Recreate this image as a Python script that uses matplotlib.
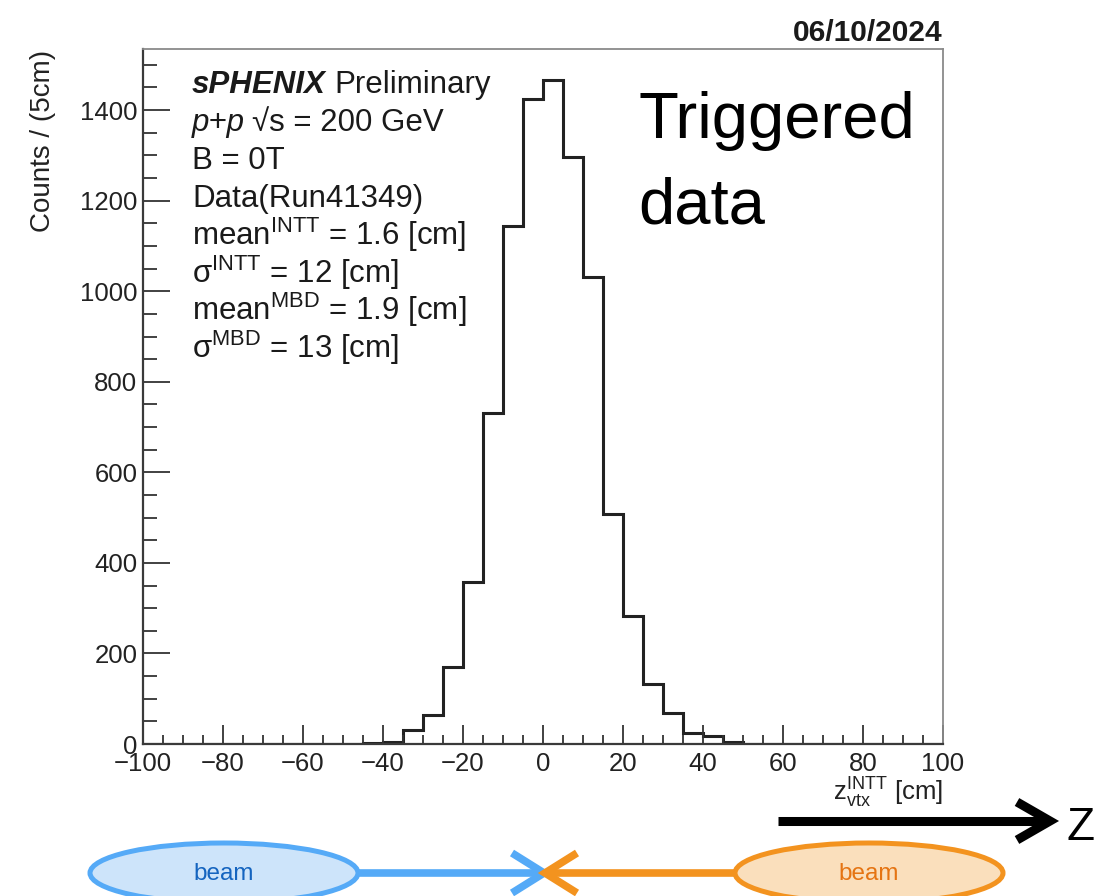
import numpy as np
import matplotlib
matplotlib.use("Agg")
import matplotlib.pyplot as plt
from matplotlib.patches import Ellipse
from matplotlib.ticker import MultipleLocator

plt.rcParams['font.family'] = ['Liberation Sans', 'DejaVu Sans']
plt.rcParams['mathtext.fontset'] = 'custom'
plt.rcParams['mathtext.rm'] = 'Liberation Sans'
plt.rcParams['mathtext.it'] = 'Liberation Sans:italic'
plt.rcParams['mathtext.bf'] = 'Liberation Sans:bold'

# INTT z-vertex distribution, 5 cm bins from -100 to 100 cm
bin_edges = np.arange(-100, 101, 5)
counts = [0, 0, 0, 0, 0, 0, 0, 0, 0, 0, 0,
          3, 5, 32, 65, 170, 358, 731, 1144, 1424,
          1466, 1297, 1032, 509, 282, 132, 68, 24, 18, 5,
          0, 0, 0, 0, 0, 0, 0, 0, 0, 0]

info_lines = [
    r"Data(Run41349)",
    r"mean$^{\mathrm{INTT}}$ = 1.6 [cm]",
    r"σ$^{\mathrm{INTT}}$ = 12 [cm]",
    r"mean$^{\mathrm{MBD}}$ = 1.9 [cm]",
    r"σ$^{\mathrm{MBD}}$ = 13 [cm]",
]

W, H = 1096, 896
fig = plt.figure(figsize=(W / 100, H / 100), dpi=100)

# main histogram frame
ax = fig.add_axes([143 / W, 1 - 744 / H, 800 / W, 695 / H])
ax.stairs(counts, bin_edges, color='#222222', lw=2.2, baseline=None)
ax.set_xlim(-100, 100)
ax.set_ylim(0, 1535)
ax.xaxis.set_major_locator(MultipleLocator(20))
ax.xaxis.set_minor_locator(MultipleLocator(5))
ax.yaxis.set_major_locator(MultipleLocator(200))
ax.yaxis.set_minor_locator(MultipleLocator(50))
ax.tick_params(axis='both', which='both', direction='in', colors='#333333',
               labelcolor='#222222', labelsize=18.5, width=1.3)
ax.tick_params(axis='x', which='major', length=13.5, pad=6)
ax.tick_params(axis='x', which='minor', length=6.5)
ax.tick_params(axis='y', which='major', length=19.5, pad=4)
ax.tick_params(axis='y', which='minor', length=10)
for s in ('left', 'bottom'):
    ax.spines[s].set_color('#3a3a3a')
    ax.spines[s].set_linewidth(1.6)
for s in ('top', 'right'):
    ax.spines[s].set_color('#8a8a8a')
    ax.spines[s].set_linewidth(1.3)

# overlay in pixel coordinates for labels and the beam sketch
ov = fig.add_axes([0, 0, 1, 1], zorder=5)
ov.set_xlim(0, W)
ov.set_ylim(H, 0)
ov.axis('off')
ov.patch.set_visible(False)

ov.text(43, 50, "Counts / (5cm)", rotation=90, ha='center', va='top',
        fontsize=20, color='#222222')
ov.text(943, 793, r"z$_{\mathrm{vtx}}^{\mathrm{INTT}}$ [cm]", ha='right',
        va='center', fontsize=18.5, color='#222222')
ov.text(943, 41, "06/10/2024", ha='right', va='baseline', fontsize=21.5,
        fontweight='bold', color='#1a1a1a')

# info block
x0, y0, dy = 192, 93.3, 37.86
fs = 22.5
t1 = ov.text(x0, y0, "sPHENIX", fontsize=fs, fontweight='bold',
             fontstyle='italic', va='baseline', color='#1a1a1a')
ov.annotate("Preliminary", xy=(1, 0), xycoords=t1, xytext=(6, 0),
            textcoords='offset points', fontsize=fs, va='bottom',
            color='#1a1a1a')
t2 = ov.text(x0, y0 + dy, "p+p", fontsize=fs, fontstyle='italic',
             va='baseline', color='#1a1a1a')
ov.annotate("√s = 200 GeV", xy=(1, 0), xycoords=t2, xytext=(5, 0),
            textcoords='offset points', fontsize=fs, va='bottom',
            color='#1a1a1a')
ov.text(x0, y0 + 2 * dy, "B = 0T", fontsize=fs, va='baseline',
        color='#1a1a1a')
for i, line in enumerate(info_lines):
    ov.text(x0, y0 + (3 + i) * dy, line, fontsize=fs, va='baseline',
            color='#1a1a1a')

ov.text(638, 138, "Triggered", fontsize=47, va='baseline', color='black')
ov.text(638, 223, "data", fontsize=47, va='baseline', color='black')

# z direction arrow
ov.plot([778, 1046], [821, 821], color='black', lw=6.5,
        solid_capstyle='butt')
ov.plot([1017, 1050, 1017], [802, 821, 840], color='black', lw=6.5,
        solid_joinstyle='miter', solid_capstyle='butt')
ov.text(1066, 840, "Z", fontsize=33, va='baseline', ha='left',
        color='black', fontstyle='normal', family='Liberation Sans')

# colliding beams
blue, blue_fill, blue_txt = '#55aaf7', '#cde4fa', '#1464bf'
orange, orange_fill, orange_txt = '#f3931f', '#fadfbc', '#e57412'
ov.add_patch(Ellipse((224, 873), 268, 60, facecolor=blue_fill,
                     edgecolor=blue, lw=3.6))
ov.add_patch(Ellipse((869, 873), 268, 60, facecolor=orange_fill,
                     edgecolor=orange, lw=3.6))
ov.plot([358, 540], [873, 873], color=blue, lw=5.5, solid_capstyle='butt')
ov.plot([512, 544, 512], [853, 873, 893], color=blue, lw=5.5,
        solid_joinstyle='miter', solid_capstyle='butt')
ov.plot([548, 735], [873, 873], color=orange, lw=5.5, solid_capstyle='butt')
ov.plot([577, 545, 577], [853, 873, 893], color=orange, lw=5.5,
        solid_joinstyle='miter', solid_capstyle='butt')
ov.text(224, 874, "beam", fontsize=17.5, ha='center', va='center',
        color=blue_txt)
ov.text(869, 874, "beam", fontsize=17.5, ha='center', va='center',
        color=orange_txt)

fig.savefig("out.png", dpi=100)
